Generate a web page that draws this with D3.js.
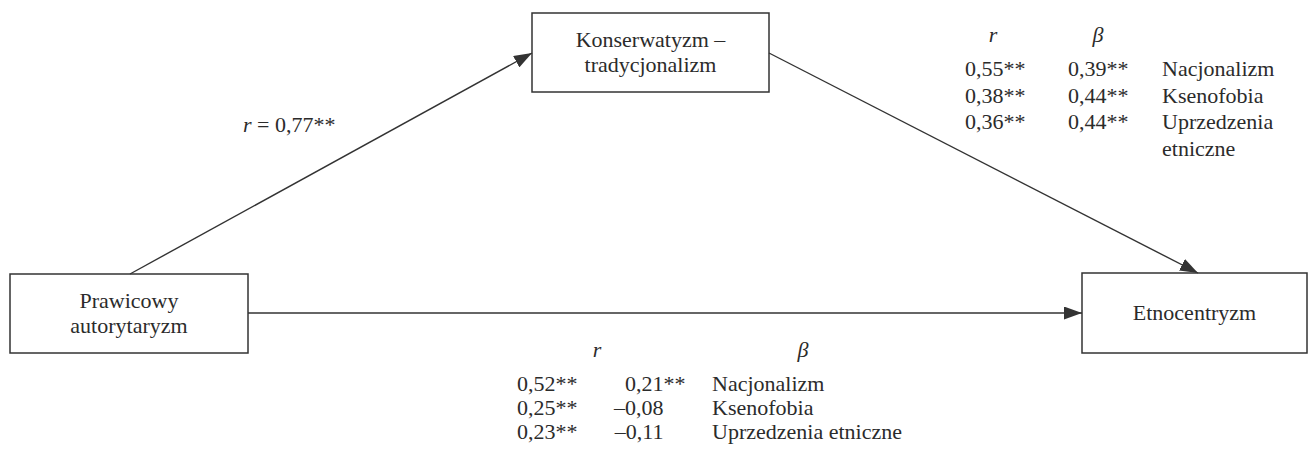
<!DOCTYPE html>
<html>
<head>
<meta charset="utf-8">
<script src="https://cdn.jsdelivr.net/npm/d3@7"></script>
</head>
<body style="margin:0">
<svg id="chart" width="1309" height="451"></svg>
<script>
// data
const nodeNames = ["Prawicowy\nautorytaryzm", "Konserwatyzm –\ntradycjonalizm", "Etnocentryzm"];
const outcomes = ["Nacjonalizm", "Ksenofobia", "Uprzedzenia etniczne"];
const pathR = 0.77;
const pathRStars = "**";
// mediator (Konserwatyzm) -> outcomes
const mediatorR = [0.55, 0.38, 0.36];
const mediatorRStars = ["**", "**", "**"];
const mediatorBeta = [0.39, 0.44, 0.44];
const mediatorBetaStars = ["**", "**", "**"];
// predictor (Prawicowy autorytaryzm) -> outcomes
const directR = [0.52, 0.25, 0.23];
const directRStars = ["**", "**", "**"];
const directBeta = [0.21, -0.08, -0.11];
const directBetaStars = ["**", "", ""];

drawDiagram();

function fmt (v) {
  return v.toFixed(2).replace(".", ",").replace("-", "–");
}

function addText (svg) {
  return svg.append("text")
    .attr("font-family", "Liberation Serif")
    .attr("font-size", 22)
    .attr("fill", "#2b2b2b");
}

function drawDiagram () {
  const svg = d3.select("#chart");
  const stroke = "#333";

  svg.append("defs").append("marker")
      .attr("id", "arrow")
      .attr("markerUnits", "userSpaceOnUse")
      .attr("markerWidth", 19)
      .attr("markerHeight", 13)
      .attr("refX", 18)
      .attr("refY", 6.5)
      .attr("orient", "auto")
    .append("path")
      .attr("d", "M0,0 L18,6.5 L0,13 Z")
      .attr("fill", stroke);

  // boxes
  const boxes = [
    { name: nodeNames[0], x0: 10, y0: 274, x1: 248, y1: 353 },
    { name: nodeNames[1], x0: 532, y0: 13, x1: 769, y1: 92 },
    { name: nodeNames[2], x0: 1082, y0: 273, x1: 1307, y1: 353 }
  ];

  boxes.forEach(b => {
    svg.append("rect")
      .attr("x", b.x0).attr("y", b.y0)
      .attr("width", b.x1 - b.x0).attr("height", b.y1 - b.y0)
      .attr("fill", "none").attr("stroke", stroke).attr("stroke-width", 1.5);
    const lines = b.name.split("\n");
    const cy = (b.y0 + b.y1) / 2;
    const t = addText(svg).attr("text-anchor", "middle");
    lines.forEach((ln, i) => {
      t.append("tspan")
        .attr("x", (b.x0 + b.x1) / 2)
        .attr("y", cy + 7 + (i - (lines.length - 1) / 2) * 25)
        .text(ln);
    });
  });

  // arrows
  const arrows = [
    [[130, 274], [532, 53]],
    [[769, 53], [1198, 273]],
    [[248, 313], [1082, 313]]
  ];
  arrows.forEach(a => {
    svg.append("line")
      .attr("x1", a[0][0]).attr("y1", a[0][1])
      .attr("x2", a[1][0]).attr("y2", a[1][1])
      .attr("stroke", stroke).attr("stroke-width", 1.4)
      .attr("marker-end", "url(#arrow)");
  });

  // path label
  const rl = addText(svg).attr("x", 243).attr("y", 132);
  rl.append("tspan").attr("font-style", "italic").text("r");
  rl.append("tspan").text(" = " + fmt(pathR) + pathRStars);

  // top-right table
  drawTable(svg, {
    header: [[993, "r"], [1098, "β"]],
    headerY: 42,
    rows: d3.scaleLinear().domain([0, 1]).range([76, 102.5]),
    cols: [
      { x: 1003.5, values: mediatorR, stars: mediatorRStars },
      { x: 1106.5, values: mediatorBeta, stars: mediatorBetaStars }
    ],
    labelX: 1162,
    wrap: true
  });

  // bottom table
  drawTable(svg, {
    header: [[597, "r"], [803, "β"]],
    headerY: 357,
    rows: d3.scaleLinear().domain([0, 1]).range([391, 415]),
    cols: [
      { x: 555.5, values: directR, stars: directRStars },
      { x: 663.5, values: directBeta, stars: directBetaStars }
    ],
    labelX: 712,
    wrap: false
  });
}

function drawTable (svg, opt) {
  opt.header.forEach(h => {
    addText(svg)
      .attr("x", h[0]).attr("y", opt.headerY)
      .attr("text-anchor", "middle")
      .attr("font-style", "italic")
      .text(h[1]);
  });

  opt.cols.forEach(col => {
    col.values.forEach((v, i) => {
      addText(svg)
        .attr("x", col.x).attr("y", opt.rows(i))
        .attr("text-anchor", "end")
        .text(fmt(v));
      if (col.stars[i]) {
        addText(svg)
          .attr("x", col.x).attr("y", opt.rows(i))
          .text(col.stars[i]);
      }
    });
  });

  outcomes.forEach((label, i) => {
    const parts = opt.wrap ? label.split(" ") : [label];
    const t = addText(svg);
    parts.forEach((p, j) => {
      t.append("tspan")
        .attr("x", opt.labelX)
        .attr("y", opt.rows(i + j))
        .text(p);
    });
  });
}
</script>
</body>
</html>
